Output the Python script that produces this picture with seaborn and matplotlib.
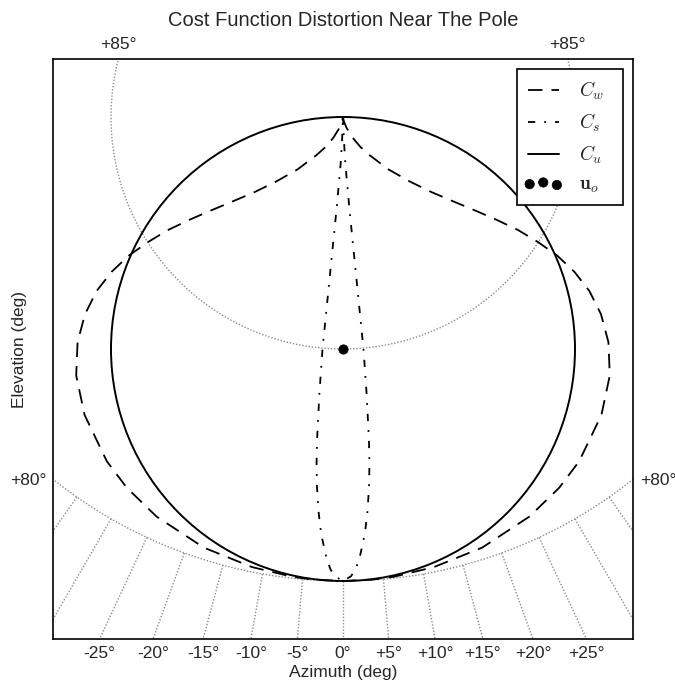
import numpy as np
import matplotlib
matplotlib.use('Agg')
import matplotlib.pyplot as plt
import seaborn as sns
from matplotlib.patches import Circle
from matplotlib.lines import Line2D
from matplotlib.legend_handler import HandlerPathCollection

# Plane coordinates in degrees, origin on u_o, pole straight above it
uo_az, uo_el = 0.0, 85.0
cu_radius = 5.0
lim = 6.25

# C_w curve: right half top -> bottom, then left half bottom -> top
cw_x = [0.00, 0.02, 0.08, 0.21, 0.38, 0.57, 0.98, 1.44, 1.91, 2.38, 2.86, 3.32, 3.78, 4.21,
        4.62, 4.99, 5.31, 5.56, 5.72, 5.75, 5.57, 5.09, 4.66, 4.02, 3.00, 1.96, 1.09, 0.63, 0.00,
        -0.63, -1.09, -1.96, -3.00, -4.02, -4.66, -5.09, -5.57, -5.75, -5.72, -5.56, -5.31, -4.99,
        -4.62, -4.21, -3.78, -3.32, -2.86, -2.38, -1.91, -1.44, -0.98, -0.57, -0.38, -0.21, -0.08,
        -0.02, 0.00]
cw_y = [5.00, 4.90, 4.76, 4.55, 4.35, 4.18, 3.87, 3.61, 3.38, 3.18, 2.98, 2.78, 2.56, 2.30,
        2.01, 1.66, 1.25, 0.75, 0.15, -0.57, -1.42, -2.42, -2.99, -3.61, -4.28, -4.70, -4.91, -4.97, -5.00,
        -4.97, -4.91, -4.70, -4.28, -3.61, -2.99, -2.42, -1.42, -0.57, 0.15, 0.75, 1.25, 1.66,
        2.01, 2.30, 2.56, 2.78, 2.98, 3.18, 3.38, 3.61, 3.87, 4.18, 4.35, 4.55, 4.76,
        4.90, 5.00]

# C_s curve, same ordering
cs_x = [0.00, 0.02, 0.05, 0.14, 0.24, 0.34, 0.44, 0.51, 0.56, 0.57, 0.56, 0.53, 0.47, 0.36, 0.27, 0.17, 0.00,
        -0.17, -0.27, -0.36, -0.47, -0.53, -0.56, -0.57, -0.56, -0.51, -0.44, -0.34, -0.24, -0.14, -0.05, -0.02, 0.00]
cs_y = [5.00, 4.50, 4.00, 3.00, 2.01, 1.01, 0.02, -0.98, -1.98, -2.48, -2.98, -3.48, -3.99, -4.49, -4.75, -4.90, -5.00,
        -4.90, -4.75, -4.49, -3.99, -3.48, -2.98, -2.48, -1.98, -0.98, 0.02, 1.01, 2.01, 3.00, 4.00, 4.50, 5.00]

# grid values
grid_elev = [85, 80]
grid_az = [-35, -30, -25, -20, -15, -10, -5, 0, 5, 10, 15, 20, 25, 30, 35]
tick_az = [-25, -20, -15, -10, -5, 0, 5, 10, 15, 20, 25]

sns.set_style('white')
plt.rcParams['font.family'] = ['Liberation Sans', 'DejaVu Sans']
plt.rcParams['mathtext.fontset'] = 'cm'
plt.rcParams['font.size'] = 12


def to_plane(az, el):
    r = 90 - np.asarray(el, dtype=float)
    a = np.radians(az)
    return r * np.sin(a), (90 - uo_el) - r * np.cos(a)


fig = plt.figure(figsize=(6.75, 6.81), dpi=100)
ax = fig.add_axes([53 / 675, 42 / 681, 580 / 675, 580 / 681])

grid_kw = dict(color='0.55', lw=1.0, linestyle=(0, (1, 1.3)), zorder=1)
ring = np.linspace(-180, 180, 721)
for el in grid_elev:
    gx, gy = to_plane(ring, np.full_like(ring, el))
    ax.plot(gx, gy, **grid_kw)
for az in grid_az:
    gx, gy = to_plane([az, az], [80, 70])
    ax.plot(gx, gy, **grid_kw)

sns.lineplot(x=cw_x, y=cw_y, sort=False, estimator=None, color='k', lw=1.3,
             linestyle=(0, (8, 5)), ax=ax, zorder=3)
sns.lineplot(x=cs_x, y=cs_y, sort=False, estimator=None, color='k', lw=1.3,
             linestyle=(0, (4, 5, 1, 5)), ax=ax, zorder=3)
ax.add_patch(Circle((uo_az, 0.0), cu_radius, fill=False, color='k', lw=1.4, zorder=3))
sns.scatterplot(x=[uo_az], y=[0.0], color='k', s=45, edgecolor='k', ax=ax, zorder=4)

ax.set_xlim(-lim, lim)
ax.set_ylim(-lim, lim)
ax.set_aspect('equal')

pole_y = 90 - uo_el
ax.set_xticks((pole_y + lim) * np.tan(np.radians(tick_az)))
ax.set_xticklabels(['%+d°' % a if a else '0°' for a in tick_az])
y80 = pole_y - np.sqrt((90 - 80) ** 2 - lim ** 2)
ax.set_yticks([y80])
ax.set_yticklabels(['+80°'])
ax.tick_params(axis='both', length=0, pad=5, labelsize=12.5)
ax.tick_params(axis='y', labelright=True)

top = ax.secondary_xaxis('top')
x85 = np.sqrt((90 - 85) ** 2 - (lim - pole_y) ** 2)
top.set_xticks([-x85, x85])
top.set_xticklabels(['+85°', '+85°'])
top.tick_params(length=0, pad=5, labelsize=12.5)
top.spines['top'].set_visible(False)

for sp in ax.spines.values():
    sp.set_color('k')
    sp.set_linewidth(1.2)

ax.set_xlabel('Azimuth (deg)', fontsize=12.5, labelpad=3)
ax.set_ylabel('Elevation (deg)', fontsize=12.5)
ax.yaxis.set_label_coords(-0.045, 0.5)
fig.text(343.5 / 675, 1 - 21 / 681, 'Cost Function Distortion Near The Pole',
         ha='center', va='center', fontsize=14.5)

uo_handle = ax.collections[-1]
handles = [Line2D([], [], color='k', lw=1.3, linestyle=(0, (8, 5))),
           Line2D([], [], color='k', lw=1.3, linestyle=(0, (4, 5, 1, 5))),
           Line2D([], [], color='k', lw=1.4),
           uo_handle]
labels = ['$C_w$', '$C_s$', '$C_u$', r'$\mathbf{u}_o$']
leg = ax.legend(handles, labels, loc='upper right', fontsize=14, scatterpoints=3,
                scatteryoffsets=[0.375, 0.5, 0.3125], fancybox=False, framealpha=1,
                edgecolor='k', bbox_to_anchor=(0.8, 0.0, 0.1828, 0.983), mode='expand',
                borderaxespad=0.0, borderpad=0.55, handlelength=1.6, handletextpad=1.05,
                labelspacing=0.5,
                handler_map={uo_handle: HandlerPathCollection(marker_pad=0.1)})
leg.get_frame().set_linewidth(1.2)

fig.savefig('out.png', dpi=100)
